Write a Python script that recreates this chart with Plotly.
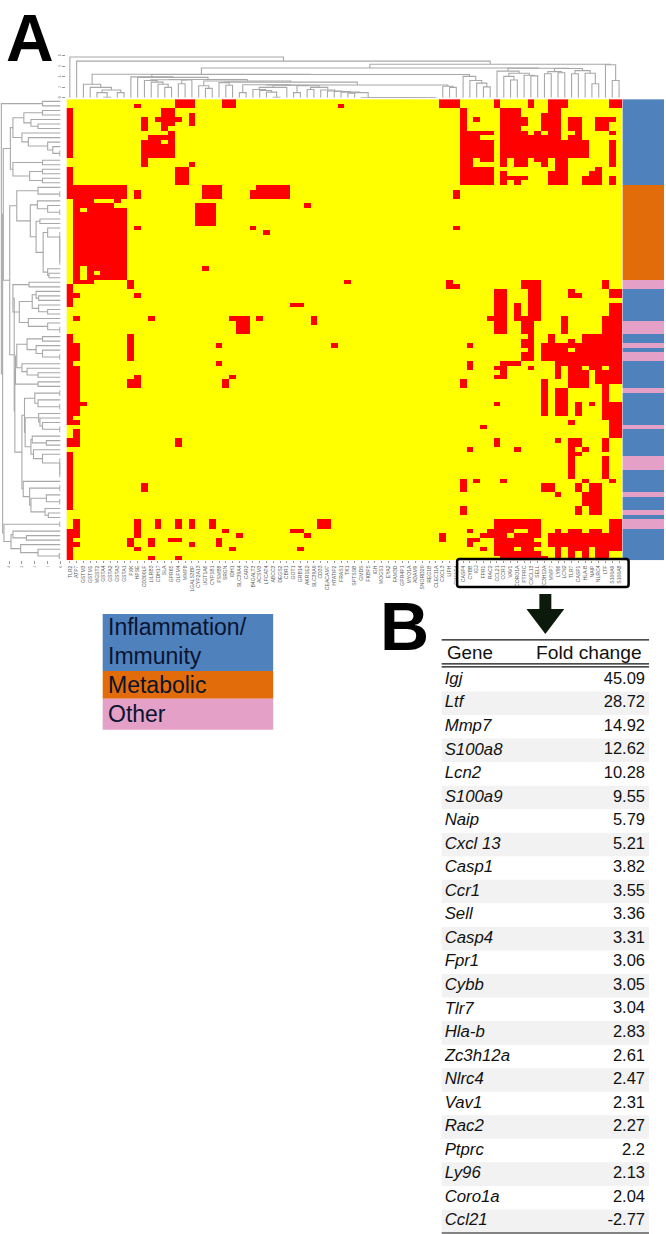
import numpy as np
import plotly.graph_objects as go

W, H = 666, 1234
N_ROWS, N_COLS = 102, 82

COLUMN_LABELS = ["TLR2","ATP7","GSTM3","GSTM1","MGST2","GSTA4","GSTA2","GSTA3","GSTA1","PXK","HPSE","CD300LF","LILRB3","CDH17","SLA","GPR65","OLFM4","MMP8","LGALS3BP","CYP2A13","UGT1A6","CYP1B1","PSMB8","SRGN","IDH1","SLC39A4","CAR2","B4GALT3","ACSM3","LPCAT4","ABCC3","DEGS2","CBR1","GOT1","GRB14","AKR1E2","SLC39A9","CD33","CEACAM7","HTATIP2","FRAS1","TK1","SPTSSB","GMDS","FKBP5","IGH","MOGS1","EYA2","FAM3D","GPR4P1","MYO1A","ADAM9","SNORD20","REG1B","CLEC11A","CXCL3","LIPH","GIMAP4","CASP4","CYBB","IGJ","FPR1","RAC2","CCL21","CCR1","VAV1","CORO1A","PTPRC","CXCL13","SELL","ZC3H12A","MMP7","LY96","LCN2","TLR7","CASP1","HLA-B","NAIP","NLRC4","LTF","S100A9","S100A8"]

# present (red) cells: first row, last row, first column, last column
PRESENT_BLOCKS = [
(0,1,16,18),(0,1,23,24),(1,1,10,10),(1,1,40,40),(2,12,0,0),(2,3,14,15),(4,6,11,11),(4,4,13,16),(5,5,14,15),(6,6,14,14),(3,5,18,18),(7,7,15,15),(8,8,12,15),(9,12,11,15),(13,14,11,11),(14,14,18,18),(15,18,0,0),(15,18,16,17),(19,21,0,8),(20,21,10,10),(19,21,20,22),(19,21,28,32),(20,21,27,27),(22,39,1,8),(40,40,1,3),(40,41,9,9),(23,27,19,21),(28,28,10,10),(28,28,27,27),(29,29,29,29),(37,37,20,20),(23,23,35,35),(40,40,41,41),(41,45,0,0),(43,43,1,1),(43,43,10,10),(45,45,33,34),(48,48,1,1),(48,48,12,12),(48,48,24,26),(49,51,25,26),(48,48,28,28),(48,49,36,36),
(52,71,0,0),(54,57,1,1),(59,69,1,1),(67,67,2,2),(71,71,1,1),(73,76,1,1),(75,76,0,0),(78,90,0,0),(93,96,1,1),(95,101,0,0),(98,98,1,1),
(52,57,9,9),(54,54,22,22),(54,54,39,39),(58,58,22,22),(61,61,24,24),(62,63,23,23),(61,63,10,10),(62,63,9,9),(75,76,16,16),(85,86,11,11),(93,96,10,10),(97,98,9,9),(99,99,10,10),(93,94,13,13),(97,98,12,12),(101,101,12,12),(93,94,16,16),(97,97,15,16),(101,101,16,16),(93,94,18,18),(98,98,18,18),(93,94,21,21),(95,95,23,23),(97,98,22,22),(96,96,25,25),(99,99,24,24),(95,95,33,34),(96,96,35,35),(99,99,34,34),(93,94,37,38),
(0,1,55,57),(0,1,63,63),(0,1,68,68),(0,1,71,73),(0,1,80,81),(2,18,58,58),(4,4,60,60),(7,7,59,62),(8,8,59,60),(9,12,59,62),(13,13,59,59),(13,13,61,62),(14,14,59,59),(15,18,59,62),
(2,6,64,66),(2,2,71,72),(3,6,70,72),(4,5,67,67),(4,6,74,75),(4,6,78,79),(4,4,80,80),(7,7,64,67),(7,7,69,69),(7,7,71,72),(7,7,75,75),(7,7,80,80),(8,8,64,72),(8,8,74,75),(9,12,64,76),(9,14,80,80),
(13,13,64,64),(13,13,66,67),(13,13,69,70),(13,13,72,73),(14,14,64,64),(14,14,66,67),(14,14,70,70),(14,14,72,73),(16,18,64,64),(17,17,65,67),(18,18,66,66),(15,15,72,73),(16,18,71,73),(15,15,78,78),(16,16,77,78),(17,18,76,78),(17,18,80,80),
(20,21,57,57),(28,28,57,57),(40,41,56,56),(41,41,57,57),
(40,41,67,69),(42,47,68,69),(48,48,67,69),(45,48,66,66),(49,51,67,68),(52,52,68,68),(53,54,67,68),(55,55,68,68),(56,57,67,68),(42,51,63,64),(48,48,62,62),(42,43,74,74),(43,43,75,75),(48,51,73,73),(40,41,79,79),(42,43,80,81),(45,47,80,81),(48,51,79,81),
(52,53,71,71),(53,53,74,74),(52,53,76,81),(54,54,70,81),(55,55,70,73),(55,55,75,81),(56,57,70,81),(58,58,72,81),(59,59,72,72),(59,59,74,75),(59,59,77,78),(59,59,80,81),(60,61,72,72),(60,63,74,76),(60,62,78,81),(63,66,79,79),(67,70,79,81),(71,74,80,81),
(62,69,70,70),(64,69,72,73),(67,69,75,75),(67,67,77,77),(67,67,63,63),(71,71,74,74),(72,72,61,61),(75,75,72,72),(75,76,74,75),(77,77,74,74),(77,77,76,76),(78,78,74,75),(79,83,74,74),(75,77,79,79),(79,83,79,79),(75,76,63,63),(77,77,59,59),(77,77,66,66),
(84,86,58,58),(84,84,60,60),(84,84,64,64),(84,84,80,80),(84,84,76,76),(85,86,75,75),(85,86,70,71),(87,87,72,72),(85,91,77,78),(87,89,76,76),(90,91,75,75),(90,91,58,58),
(54,54,59,59),(58,59,59,59),(58,58,64,66),(59,59,63,64),(60,60,64,64),(61,61,63,64),(59,59,68,68),(62,63,58,58),
(93,94,63,69),(95,95,62,65),(95,95,68,69),(96,96,61,64),(96,96,66,69),(97,97,63,68),(98,98,63,69),(99,99,63,65),(99,99,67,68),(100,100,63,69),(101,101,64,70),
(96,97,55,55),(95,95,59,59),(97,97,59,60),(98,98,59,59),(99,99,61,61),
(95,95,72,72),(95,95,74,75),(95,95,77,78),(93,98,80,81),(96,98,71,81),(99,99,72,72),(99,99,74,76),(99,99,78,81),(100,101,72,72),(100,101,74,74),(100,101,76,76),(100,101,78,79),
]
ABSENT_BLOCKS = [(22,22,4,6),(22,22,8,8),(23,23,7,8),(24,24,2,2),(37,39,2,2),(38,38,4,4),(9,9,14,14)]

# row annotation: category, number of consecutive rows
ROW_CATEGORY_RUNS = [(0,19),(1,21),(2,2),(0,7),(2,3),(0,2),(2,1),(0,1),(2,2),(0,6),(2,1),(0,7),(2,1),(0,6),(2,3),(0,5),(2,1),(0,3),(2,1),(0,1),(2,2),(0,7)]
LEGEND_LINES = ["Inflammation/", "Immunity", "Metabolic", "Other"]

GENES = ["Igj","Ltf","Mmp7","S100a8","Lcn2","S100a9","Naip","Cxcl 13","Casp1","Ccr1","Sell","Casp4","Fpr1","Cybb","Tlr7","Hla-b","Zc3h12a","Nlrc4","Vav1","Rac2","Ptprc","Ly96","Coro1a","Ccl21"]
FOLD_CHANGE = ["45.09","28.72","14.92","12.62","10.28","9.55","5.79","5.21","3.82","3.55","3.36","3.31","3.06","3.05","3.04","2.83","2.61","2.47","2.31","2.27","2.2","2.13","2.04","-2.77"]


def chain(h, a, b):
    return b if a == b else (h, a, chain(h, a + 1, b))

# dendrograms: (merge height, left child, right child), an integer is a leaf
g_a = (2.6,2,(2.0,3,(1.5,(1.0,4,(0.1,5,6)),(1.0,7,8))))
g_b = (3.45,(3.3,11,(3.0,12,(2.6,13,(2.0,14,15)))),(3.4,(2.7,16,17),18))
g_c = (2.45,(2.5,(1.0,25,26),(2.4,(2.0,(1.6,27,(1.4,28,(1.1,29,(0.1,30,31)))),32),(2.3,(1.0,33,34),(2.0,(1.6,35,36),(1.5,37,(1.3,38,(1.2,39,(1.1,40,(1.0,(0.9,41,42),chain(0.05,43,54)))))))))),(2.2,55,(2.0,56,57)))
g_d = (4.0,9,(3.9,10,(3.5,g_b,(3.2,(2.3,19,(1.8,20,21)),(3.0,(2.9,22,(2.4,23,24)),g_c)))))
g_e = (4.1,58,(3.3,59,(2.8,60,(2.1,61,62))))
g_f = (5.1,63,(4.7,(4.1,64,(3.4,65,66)),(4.3,67,(4.2,68,69))))
g_g = (5.6,(5.0,(4.6,70,71),(4.8,72,73)),(5.2,(4.6,74,75),(4.7,76,(2.7,77,78))))
COLUMN_TREE = (7.8,0,(7.0,1,(6.4,(5.7,(4.5,g_a,(4.45,g_d,g_e)),(5.65,g_f,g_g)),(6.3,79,(3.3,80,81)))))

r_a = (3.9,(3.7,(2.85,(1.4,2,3),(2.3,4,(1.75,5,6))),(3.0,7,(2.5,8,(1.0,9,(0.6,10,(0.05,11,12)))))),(3.7,(1.4,13,14),(2.4,(1.4,15,16),(1.4,17,18))))
r_b = (3.4,(1.75,19,(0.05,20,21)),(2.35,(1.8,22,(1.0,23,(0.05,24,25))),(1.9,(1.6,26,27),(1.35,(1.0,28,chain(0.05,29,36)),(1.0,37,(0.9,38,39))))))
r_c = (3.7,(2.45,40,41),(3.2,(2.2,(1.9,42,(1.7,43,44)),(1.7,45,(1.0,46,47))),(2.5,48,(1.0,49,(0.05,50,51)))))
r_d = (3.5,(3.4,(2.6,(1.4,52,53),(1.9,54,(1.4,55,(0.05,56,57)))),(3.0,58,(2.6,59,(1.75,60,61)))),(1.75,62,63))
r_e = (2.8,(2.0,(0.05,64,65),(1.75,66,(0.05,67,68))),(2.75,(1.7,69,(1.6,70,(1.4,71,(0.05,72,73)))),(2.3,(2.2,74,(1.1,75,76)),(2.1,77,(1.4,78,chain(0.05,79,83))))))
r_f = (2.9,84,(2.4,(0.05,85,86),(2.3,(1.1,87,(0.05,88,89)),(1.2,90,(0.95,91,92)))))
r_g = (4.4,(0.05,93,94),(3.85,(3.7,95,(2.65,96,97)),(3.1,98,(1.75,99,(0.1,100,101)))))
ROW_TREE = (4.6,(1.4,0,1),(4.5,(4.45,r_a,(3.95,r_b,(3.6,r_c,(3.55,r_d,(3.0,r_e,r_f))))),r_g))


def walk(node, pos, hgt):
    if isinstance(node, int):
        return float(node), 0.0
    h, left, right = node
    pl, hl = walk(left, pos, hgt)
    pr, hr = walk(right, pos, hgt)
    pos += [pl, pl, pr, pr, None]
    hgt += [hl, h, h, hr, None]
    return (pl + pr) / 2, h


def fx(x):
    return x / W


def fy(y):
    return 1 - y / H


# layout constants in pixels
HM_L, HM_R, HM_T, HM_B = 66.67, 624.3, 97.3, 559.4
BLUE, ORANGE, PINK = "#4f81bd", "#e36c0a", "#e5a0c8"
YELLOW, RED = "#ffff00", "#ff0000"
DENDRO = "#a8a8a8"
TXT = "#111111"
FONT = "Liberation Sans"

z = np.zeros((N_ROWS, N_COLS), dtype=int)
for r0, r1, c0, c1 in PRESENT_BLOCKS:
    z[r0:r1 + 1, c0:c1 + 1] = 1
for r0, r1, c0, c1 in ABSENT_BLOCKS:
    z[r0:r1 + 1, c0:c1 + 1] = 0

row_cat = np.concatenate([[c] * n for c, n in ROW_CATEGORY_RUNS]).reshape(-1, 1)

fig = go.Figure()
fig.add_trace(go.Heatmap(z=z, x=list(range(N_COLS)), y=list(range(N_ROWS)), xaxis="x", yaxis="y",
                         zmin=0, zmax=1, showscale=False, hoverinfo="skip",
                         colorscale=[[0, YELLOW], [0.5, YELLOW], [0.5, RED], [1, RED]]))
fig.add_trace(go.Heatmap(z=row_cat, x=[0], y=list(range(N_ROWS)), xaxis="x2", yaxis="y", zmin=0, zmax=2,
                         showscale=False, hoverinfo="skip",
                         colorscale=[[0, BLUE], [1 / 3, BLUE], [1 / 3, ORANGE], [2 / 3, ORANGE], [2 / 3, PINK], [1, PINK]]))
cp, ch = [], []
walk(COLUMN_TREE, cp, ch)
fig.add_trace(go.Scatter(x=cp, y=ch, xaxis="x3", yaxis="y3", mode="lines", hoverinfo="skip",
                         line=dict(color=DENDRO, width=1.1)))
rp, rh = [], []
walk(ROW_TREE, rp, rh)
fig.add_trace(go.Scatter(x=rh, y=rp, xaxis="x4", yaxis="y", mode="lines", hoverinfo="skip",
                         line=dict(color=DENDRO, width=1.1)))

n = len(GENES)
fig.add_trace(go.Scatter(x=[0] * n, y=list(range(n)), xaxis="x5", yaxis="y5", mode="text", text=[f"<i>{g}</i>" for g in GENES],
                         textposition="middle right", hoverinfo="skip", textfont=dict(family=FONT, size=16.8, color=TXT)))
fig.add_trace(go.Scatter(x=[1] * n, y=list(range(n)), xaxis="x5", yaxis="y5", mode="text", text=FOLD_CHANGE,
                         textposition="middle left", hoverinfo="skip", textfont=dict(family=FONT, size=16.5, color=TXT)))

shapes = []
for i in range(1, n, 2):
    shapes.append(dict(type="rect", layer="below", xref="paper", yref="y5", x0=fx(443), x1=fx(651), y0=i - 0.5, y1=i + 0.5,
                       fillcolor="#f2f2f2", line_width=0))
for y in [639, 663, 666, 1233]:
    shapes.append(dict(type="line", xref="paper", yref="paper", x0=fx(443), x1=fx(651), y0=fy(y), y1=fy(y),
                       line=dict(color="#111111", width=1.2)))
# category key
for (t, b, c) in [(613, 670, BLUE), (670, 698, ORANGE), (698, 729, PINK)]:
    shapes.append(dict(type="rect", xref="paper", yref="paper", x0=fx(103), x1=fx(274), y0=fy(t), y1=fy(b), fillcolor=c, line_width=0))


def poly(points):
    return "M " + " L ".join(f"{fx(x):.5f},{fy(y):.5f}" for x, y in points) + " Z"


def rounded(l, t, r, b, k):
    p = lambda x, y: f"{fx(x):.5f},{fy(y):.5f}"
    return (f"M {p(l + k, t)} L {p(r - k, t)} Q {p(r, t)} {p(r, t + k)} L {p(r, b - k)} Q {p(r, b)} {p(r - k, b)} "
            f"L {p(l + k, b)} Q {p(l, b)} {p(l, b - k)} L {p(l, t + k)} Q {p(l, t)} {p(l + k, t)} Z")


# gene box and arrow
shapes.append(dict(type="path", xref="paper", yref="paper", path=rounded(458.5, 558, 630.5, 586, 2.5),
                   line=dict(color="#000000", width=2.5)))
shapes.append(dict(type="path", xref="paper", yref="paper", fillcolor="#0c1a0c", line_width=0,
                   path=poly([(541, 593), (553, 593), (553, 608), (566, 608), (547, 633), (528, 608), (541, 608)])))

key_font = dict(size=23, color="#0a1430", family=FONT)
annotations = [
    dict(text="<b>A</b>", x=fx(5), y=fy(-2), font=dict(size=66, color="#000000", family=FONT)),
    dict(text="<b>B</b>", x=fx(380), y=fy(586), font=dict(size=68, color="#000000", family=FONT)),
    dict(text="Gene", x=fx(447), y=fy(640), font=dict(size=18.8, color=TXT, family=FONT)),
    dict(text="Fold change", x=fx(537), y=fy(640), font=dict(size=19.2, color=TXT, family=FONT)),
    dict(text=LEGEND_LINES[0], x=fx(107), y=fy(612), font=key_font),
    dict(text=LEGEND_LINES[1], x=fx(107), y=fy(641), font=key_font),
    dict(text=LEGEND_LINES[2], x=fx(107), y=fy(670), font=key_font),
    dict(text=LEGEND_LINES[3], x=fx(107), y=fy(699), font=key_font),
]
for a in annotations:
    a.update(xref="paper", yref="paper", xanchor="left", yanchor="top", showarrow=False, borderpad=0)

small = dict(size=3.2, color="#777777", family=FONT)
fig.update_layout(
    width=W, height=H, margin=dict(l=0, r=0, t=0, b=0), paper_bgcolor="white", plot_bgcolor="white",
    showlegend=False, shapes=shapes, annotations=annotations,
    font=dict(family=FONT),
    xaxis=dict(domain=[fx(HM_L), fx(HM_R)], range=[-0.5, N_COLS - 0.5], anchor="y", side="bottom",
               tickmode="array", tickvals=list(range(N_COLS)), ticktext=COLUMN_LABELS, tickangle=-90,
               ticks="outside", ticklen=2, tickwidth=0.5, tickcolor="#999999",
               tickfont=dict(size=5.1, color="#5a5a5a", family=FONT), showgrid=False, zeroline=False),
    yaxis=dict(domain=[fy(HM_B), fy(HM_T)], range=[N_ROWS - 0.5, -0.5], showticklabels=False, ticks="", showgrid=False, zeroline=False),
    xaxis2=dict(domain=[fx(HM_R), 1], range=[-0.5, 0.5], anchor="y", visible=False),
    xaxis3=dict(domain=[fx(HM_L), fx(HM_R)], range=[-0.5, N_COLS - 0.5], anchor="y3", visible=False),
    yaxis3=dict(domain=[fy(96), fy(54)], range=[0, 8], anchor="x3", tickmode="array", tickvals=[0, 2, 4, 6, 8], tickangle=-90,
                ticks="outside", ticklen=3, tickwidth=0.5, tickcolor="#999999", tickfont=small, showgrid=False, zeroline=False, showline=False),
    xaxis4=dict(domain=[0, fx(60.7)], range=[60.7 / 12.9, 0], anchor="y", side="bottom", tickmode="array", tickvals=[4, 3, 2, 1, 0],
                tickangle=-90, ticks="outside", ticklen=3, tickwidth=0.5, tickcolor="#999999", tickfont=small, showgrid=False, zeroline=False),
    xaxis5=dict(domain=[fx(446), fx(647)], range=[0, 1], anchor="y5", visible=False),
    yaxis5=dict(domain=[fy(1233), fy(667)], range=[n - 0.5, -0.5], anchor="x5", visible=False),
)

fig.write_html("out.html", config=dict(displayModeBar=False), post_script="document.body.style.margin='0';")
